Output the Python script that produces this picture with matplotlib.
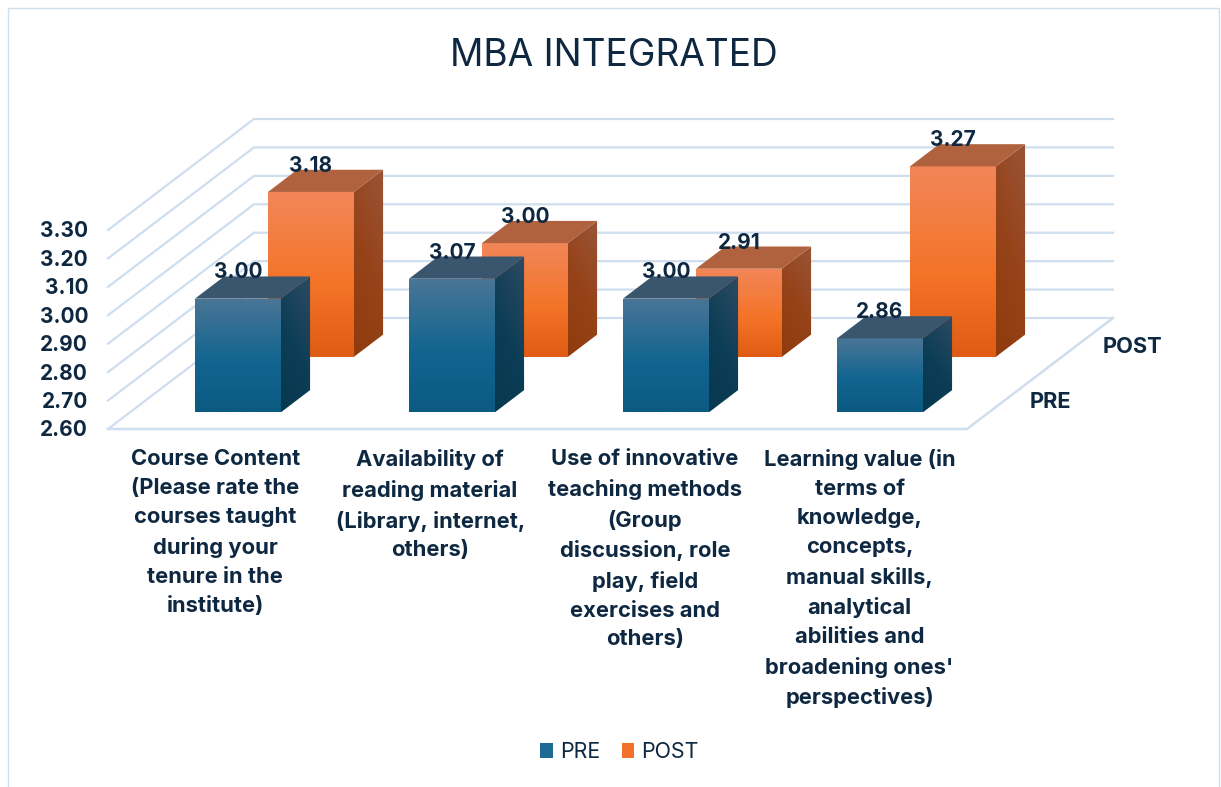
import numpy as np
import matplotlib
matplotlib.use('Agg')
import matplotlib.pyplot as plt
from matplotlib.patches import Polygon, Patch, Rectangle

plt.rcParams['font.family'] = ['Inter', 'DejaVu Sans']

categories = [
    'Course Content\n(Please rate the\ncourses taught\nduring your\ntenure in the\ninstitute)',
    'Availability of\nreading material\n(Library, internet,\nothers)',
    'Use of innovative\nteaching methods\n(Group\ndiscussion, role\nplay, field\nexercises and\nothers)',
    "Learning value (in\nterms of\nknowledge,\nconcepts,\nmanual skills,\nanalytical\nabilities and\nbroadening ones'\nperspectives)",
]
series_names = ['PRE', 'POST']
pre_values = [3.00, 3.07, 3.00, 2.86]
post_values = [3.18, 3.00, 2.91, 3.27]
value_ticks = [2.60, 2.70, 2.80, 2.90, 3.00, 3.10, 3.20, 3.30]

W, H = 1221, 787
TEXT = '#0e2841'
GRID = '#cfdeee'

# oblique view: one depth unit moves this far in category / value units
CAT_PX = 214.75
VAL_PX = 284.3
DX = 146 / CAT_PX
DV = 111 / VAL_PX
V0 = 2.60
BAR_W = 0.40
BAR_D = 0.20
BAR_STEP = 0.9965
FONT = 15

fig = plt.figure(figsize=(W / 100, H / 100), dpi=100)
ax = fig.add_axes([0, 0, 1, 1])
ax.set_xlim(-108 / CAT_PX, (W - 108) / CAT_PX)
ax.set_ylim(V0 - (H - 429) / VAL_PX, V0 + 429 / VAL_PX)
ax.axis('off')
ax.autoscale(False)


def pt(cat, depth, val):
    return (cat + depth * DX, val + depth * DV)


def gradient_face(verts, stops, diagonal=False, zorder=2):
    poly = Polygon(verts, closed=True, facecolor='none', edgecolor='none', zorder=zorder)
    ax.add_patch(poly)
    xs = [v[0] for v in verts]
    ys = [v[1] for v in verts]
    n = 64
    yy, xx = np.mgrid[0:1:n * 1j, 0:1:n * 1j]
    t = yy * 0.7 + (1 - xx) * 0.3 if diagonal else yy
    pos = [s[0] for s in stops]
    rgb = np.array([matplotlib.colors.to_rgb(s[1]) for s in stops])
    img = np.dstack([np.interp(t, pos, rgb[:, i]) for i in range(3)])
    im = ax.imshow(img, extent=(min(xs), max(xs), min(ys), max(ys)), aspect='auto',
                   origin='upper', interpolation='bilinear', zorder=zorder)
    im.set_clip_box(None)
    im.set_clip_path(poly)


def draw_bar(cat, depth, val, front, side, top, zorder):
    c = cat * BAR_STEP + 0.503
    l = c - BAR_W / 2
    r = c + BAR_W / 2
    f = depth - BAR_D / 2
    b = depth + BAR_D / 2
    gradient_face([pt(l, f, V0), pt(r, f, V0), pt(r, f, val), pt(l, f, val)], front, zorder=zorder)
    gradient_face([pt(r, f, V0), pt(r, b, V0), pt(r, b, val), pt(r, f, val)], side, diagonal=True, zorder=zorder)
    ax.add_patch(Polygon([pt(l, f, val), pt(r, f, val), pt(r, b, val), pt(l, b, val)],
                         closed=True, facecolor=top, edgecolor='none', zorder=zorder))
    return pt(c, f, val)


# walls and floor
for v in value_ticks:
    x0, y0 = pt(0, 0, v)
    x1, y1 = pt(0, 1, v)
    x2, y2 = pt(4, 1, v)
    ax.plot([x0, x1, x2], [y0, y1, y2], color=GRID, lw=1.6, solid_joinstyle='miter', zorder=1)
fx = [pt(0, 0, V0), pt(4, 0, V0), pt(4, 1, V0)]
ax.plot([p[0] for p in fx], [p[1] for p in fx], color=GRID, lw=1.8, solid_joinstyle='miter', zorder=1)

blue = dict(
    front=[(0, '#4a7596'), (0.55, '#126590'), (1, '#0b5a82')],
    side=[(0, '#2d4b62'), (0.55, '#0c3d56'), (1, '#06384f')],
    top='#3a566e',
)
orange = dict(
    front=[(0, '#f28659'), (0.55, '#f47428'), (1, '#e05c14')],
    side=[(0, '#995537'), (0.5, '#96431a'), (1, '#8f3b0c')],
    top='#b0623f',
)

label_spots = []
for i, v in enumerate(post_values):
    label_spots.append(draw_bar(i, 0.75, v, zorder=3, **orange))
for i, v in enumerate(pre_values):
    label_spots.append(draw_bar(i, 0.25, v, zorder=4, **blue))

all_values = post_values + pre_values
for (x, y), v in zip(label_spots, all_values):
    ax.text(x, y + 0.092, f'{v:.2f}', ha='center', va='center', fontsize=FONT,
            fontweight='bold', color=TEXT, zorder=6)

# value axis labels
for v in value_ticks:
    ax.text(-0.093, v - 0.005, f'{v:.2f}', ha='right', va='center', fontsize=FONT,
            fontweight='bold', color=TEXT)

# category labels
for i, c in enumerate(categories):
    ax.text(i + 0.5, 2.60 - 20.5 / VAL_PX, c, ha='center', va='top', fontsize=15.8,
            fontweight='bold', color=TEXT, linespacing=1.56)

# series labels on the depth axis
for name, d in zip(series_names, [0.25, 0.75]):
    x, y = pt(4, d, V0)
    ax.text(x + 26 / CAT_PX, y - 1 / VAL_PX, name, ha='left', va='center', fontsize=15.7,
            fontweight='bold', color=TEXT)

ax.text(614 / W, 1 - 56 / H, 'MBA INTEGRATED', transform=ax.transAxes, ha='center', va='center',
        fontsize=26.7, color=TEXT)

handles = [Patch(facecolor='#1f6a92', label=series_names[0]),
           Patch(facecolor='#f1702c', label=series_names[1])]
ax.legend(handles=handles, loc='center', bbox_to_anchor=(619.5 / W, 1 - 752 / H), ncol=2,
          frameon=False, fontsize=15.4, labelcolor=TEXT, handlelength=0.58, handleheight=0.68,
          handletextpad=0.35, columnspacing=1.0)

fig.add_artist(Rectangle((8 / W, -0.02), (1219 - 8) / W, 1.02 - 8 / H, transform=fig.transFigure,
                         facecolor='none', edgecolor=GRID, lw=1.0))

fig.savefig('out.png', dpi=100)
